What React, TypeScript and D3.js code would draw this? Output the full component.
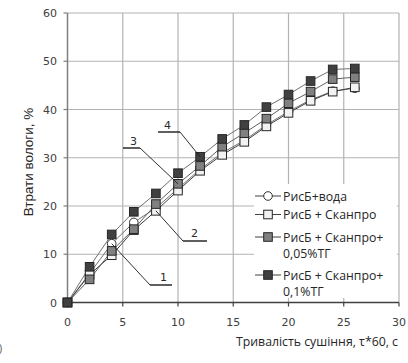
import React from "react";
import * as d3 from "d3";

const times = [0, 2, 4, 6, 8, 10, 12, 14, 16, 18, 20, 22, 24, 26];
const seriesNames = ["РисБ+вода", "РисБ + Сканпро", "РисБ + Сканпро+ 0,05%ТГ", "РисБ + Сканпро+ 0,1%ТГ"];
const water = [0, 6.0, 12.2, 16.6, 19.6, 23.6, 27.6, 31.0, 33.6, 36.8, 39.6, 42.0, 43.8, 44.4];
const scanpro = [0, 5.8, 9.8, 15.0, 19.0, 23.2, 27.3, 30.6, 33.3, 36.5, 39.3, 41.8, 43.7, 44.6];
const scanpro005 = [0, 4.8, 10.7, 15.2, 20.4, 24.6, 28.3, 32.3, 35.1, 38.1, 41.3, 43.7, 46.3, 46.7];
const scanpro01 = [0, 7.4, 14.1, 18.8, 22.6, 26.8, 30.2, 33.9, 36.8, 40.5, 43.1, 45.9, 48.3, 48.5];
const xTicks = [0, 5, 10, 15, 20, 25, 30];
const yTicks = [0, 10, 20, 30, 40, 50, 60];
const calloutLabels = ["1", "2", "3", "4"];

const W = 408, H = 363;
const x = d3.scaleLinear().domain([0, 30]).range([67.5, 399]);
const y = d3.scaleLinear().domain([0, 60]).range([302.5, 13]);

const series = [
  { name: seriesNames[0], values: water, marker: "circle", fill: "#ffffff", line: "#707070" },
  { name: seriesNames[1], values: scanpro, marker: "square", fill: "#f2f2f2", line: "#404040" },
  { name: seriesNames[2], values: scanpro005, marker: "square", fill: "#808080", line: "#606060" },
  { name: seriesNames[3], values: scanpro01, marker: "square", fill: "#404040", line: "#707070" },
];

function Marker({ type, cx, cy, fill }: { type: string; cx: number; cy: number; fill: string }) {
  if (type === "circle") return <circle cx={cx} cy={cy} r={4.3} fill={fill} stroke="#303030" strokeWidth={1} />;
  return <rect x={cx - 4.3} y={cy - 4.3} width={8.6} height={8.6} fill={fill} stroke="#262626" strokeWidth={1} />;
}

export default function App() {
  const line = d3.line<number>().x((_, i) => x(times[i])).y((v) => y(v));
  const callouts = [
    { label: calloutLabels[0], s: 0, i: 2, ux1: 150, ux2: 172, uy: 285, tx: 160, ty: 281, side: "left" },
    { label: calloutLabels[1], s: 1, i: 4, ux1: 183, ux2: 207, uy: 241, tx: 191, ty: 237, side: "left" },
    { label: calloutLabels[2], s: 2, i: 5, ux1: 123, ux2: 140, uy: 148, tx: 130, ty: 145, side: "right" },
    { label: calloutLabels[3], s: 3, i: 6, ux1: 158, ux2: 180, uy: 132, tx: 164, ty: 129, side: "right" },
  ];
  const legendItems = [
    { s: 0, ly: 196, lines: ["РисБ+вода"] },
    { s: 1, ly: 214.5, lines: ["РисБ + Сканпро"] },
    { s: 2, ly: 237, lines: ["РисБ + Сканпро+", "0,05%ТГ"] },
    { s: 3, ly: 275, lines: ["РисБ + Сканпро+", "0,1%ТГ"] },
  ];
  return (
    <svg width={W} height={H} style={{ position: "absolute", left: 0, top: 0, background: "#fff" }}>
      <defs>
        <clipPath id="legclip">
          <rect x={254} y={184} width={143} height={114} />
        </clipPath>
      </defs>
      <rect width={W} height={H} fill="#fff" />
      {xTicks.slice(1).map((t) => (
        <line key={"gx" + t} x1={x(t)} x2={x(t)} y1={y(60)} y2={y(0)} stroke="#b3b3b3" strokeWidth={1.2} />
      ))}
      {yTicks.slice(1).map((t) => (
        <line key={"gy" + t} x1={x(0)} x2={x(30)} y1={y(t)} y2={y(t)} stroke="#b3b3b3" strokeWidth={1.2} />
      ))}
      <line x1={x(0)} x2={x(0)} y1={y(60)} y2={y(0)} stroke="#7f7f7f" strokeWidth={1.5} />
      <line x1={x(0)} x2={x(30)} y1={y(0)} y2={y(0)} stroke="#404040" strokeWidth={1.3} />
      {yTicks.map((t) => (
        <g key={"yt" + t}>
          <line x1={x(0) - 4} x2={x(0)} y1={y(t)} y2={y(t)} stroke="#7f7f7f" strokeWidth={1.2} />
          <text x={57} y={y(t) + 4} textAnchor="end" fontFamily="DejaVu Sans" fontSize={11} fill="#404040">{t}</text>
        </g>
      ))}
      {xTicks.map((t) => (
        <g key={"xt" + t}>
          <line x1={x(t)} x2={x(t)} y1={y(0)} y2={y(0) + 4} stroke="#404040" strokeWidth={1.2} />
          <text x={x(t)} y={326} textAnchor="middle" fontFamily="DejaVu Sans" fontSize={11} fill="#404040">{t}</text>
        </g>
      ))}
      <text transform={`translate(33,162) rotate(-90)`} textAnchor="middle" fontFamily="Liberation Sans" fontSize={13.5} fill="#262626">Втрати вологи, %</text>
      <text x={398} y={346} textAnchor="end" fontFamily="Open Sans" fontSize={12.3} fill="#262626">Тривалість сушіння, τ*60, с</text>
      <text x={-1} y={352} fontFamily="Liberation Sans" fontSize={10} fill="#555">)</text>
      {series.map((s, k) => (
        <path key={"l" + k} d={line(s.values) || ""} fill="none" stroke={s.line} strokeWidth={1} />
      ))}
      {series.map((s, k) => (
        <g key={"m" + k}>
          {s.values.map((v, i) => (
            <Marker key={i} type={s.marker} cx={x(times[i])} cy={y(v)} fill={s.fill} />
          ))}
        </g>
      ))}
      {callouts.map((c, k) => {
        const px = x(times[c.i]);
        const py = y(series[c.s].values[c.i]);
        const jx = c.side === "left" ? c.ux1 : c.ux2;
        return (
          <g key={"c" + k}>
            <line x1={c.ux1} x2={c.ux2} y1={c.uy} y2={c.uy} stroke="#1a1a1a" strokeWidth={1.4} />
            <line x1={jx} y1={c.uy} x2={px} y2={py} stroke="#1a1a1a" strokeWidth={0.9} />
            <text x={c.tx} y={c.ty} fontFamily="DejaVu Sans" fontSize={11} fill="#2a2a2a">{c.label}</text>
          </g>
        );
      })}
      <g clipPath="url(#legclip)">
        <rect x={254} y={184} width={143} height={114} fill="#fff" />
        {legendItems.map((it) => {
          const s = series[it.s];
          return (
            <g key={"lg" + it.s}>
              <line x1={255} x2={281} y1={it.ly} y2={it.ly} stroke="#404040" strokeWidth={1} />
              <Marker type={s.marker} cx={268} cy={it.ly} fill={s.fill} />
              {it.lines.map((t, j) => (
                <text key={j} x={283} y={it.ly + 4.5 + j * 16.2} fontFamily="Open Sans" fontSize={12.3} fill="#262626">{t}</text>
              ))}
            </g>
          );
        })}
      </g>
    </svg>
  );
}
